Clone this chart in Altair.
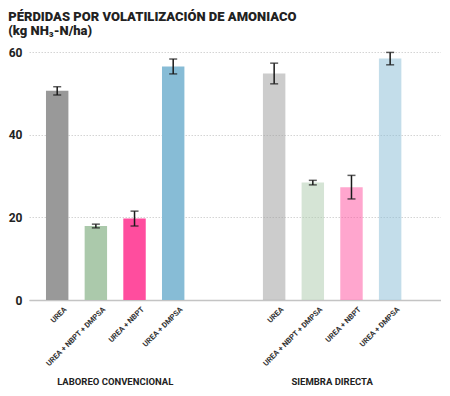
import altair as alt
import pandas as pd

group_order = ["LABOREO CONVENCIONAL", "SIEMBRA DIRECTA"]
treatment_order = ["UREA", "UREA + NBPT + DMPSA", "UREA + NBPT", "UREA + DMPSA"]

groups = ["LABOREO CONVENCIONAL"] * 4 + ["SIEMBRA DIRECTA"] * 4
treatments = treatment_order * 2
values = [50.6, 17.9, 19.7, 56.5, 54.8, 28.4, 27.3, 58.4]
errors = [1.0, 0.45, 1.8, 1.8, 2.5, 0.55, 2.85, 1.5]

colors = ["#999999", "#abc9ab", "#ff4d9e", "#87bcd6"]
group_opacity = [1.0, 0.5]
y_ticks = [0, 20, 40, 60]

df = pd.DataFrame({"group": groups, "treatment": treatments, "value": values, "err": errors})
df["lo"] = df["value"] - df["err"]
df["hi"] = df["value"] + df["err"]

FONT = "Roboto"
INK = "#222222"

x_enc = alt.X(
    "group:N",
    sort=group_order,
    scale=alt.Scale(domain=group_order, paddingInner=0.362, paddingOuter=0.1305, align=0.3),
    axis=alt.Axis(
        title=None, labelAngle=0, ticks=False, labelPadding=76,
        labelFont=FONT, labelFontWeight="bold", labelFontSize=9.5, labelColor=INK,
        domainColor="#c4c4c4", domainWidth=1.5,
    ),
)
xoff_enc = alt.XOffset(
    "treatment:N", sort=treatment_order,
    scale=alt.Scale(domain=treatment_order, paddingInner=0.42, paddingOuter=0),
)
y_scale = alt.Scale(domain=[0, 60], nice=False)
y_axis = alt.Axis(
    values=y_ticks, title=None, ticks=False, domain=False, labelPadding=7,
    labelFont=FONT, labelFontWeight="bold", labelFontSize=12, labelColor=INK,
    gridColor="#d4d4d4", gridDash=[1.5, 1.5], gridWidth=1,
)

base = alt.Chart(df)

bars = base.mark_bar().encode(
    x=x_enc,
    xOffset=xoff_enc,
    y=alt.Y("value:Q", scale=y_scale, axis=y_axis),
    color=alt.Color("treatment:N", scale=alt.Scale(domain=treatment_order, range=colors), legend=None),
    opacity=alt.Opacity("group:N", scale=alt.Scale(domain=group_order, range=group_opacity), legend=None),
)

rules = base.mark_rule(color="#1a1a1a", strokeWidth=1.5).encode(
    x=x_enc, xOffset=xoff_enc, y=alt.Y("lo:Q"), y2="hi:Q"
)
cap_lo = base.mark_tick(color="#1a1a1a", thickness=1.5, size=8, orient="horizontal").encode(
    x=x_enc, xOffset=xoff_enc, y=alt.Y("lo:Q")
)
cap_hi = base.mark_tick(color="#1a1a1a", thickness=1.5, size=8, orient="horizontal").encode(
    x=x_enc, xOffset=xoff_enc, y=alt.Y("hi:Q")
)

labels = base.mark_text(
    angle=315, align="right", baseline="middle", dy=12,
    font=FONT, fontWeight="bold", fontSize=7.5, color="#333333",
).encode(x=x_enc, xOffset=xoff_enc, y=alt.datum(0), text="treatment:N")

chart = (
    alt.layer(bars, rules, cap_lo, cap_hi, labels)
    .properties(
        width=412,
        height=248,
        padding={"left": 0, "top": 3, "right": 0, "bottom": 0},
        title=alt.TitleParams(
            ["PÉRDIDAS POR VOLATILIZACIÓN DE AMONIACO", "(kg NH₃-N/ha)"],
            anchor="start", frame="bounds", font=FONT, fontSize=13, fontWeight=900,
            color=INK, lineHeight=14, offset=8,
        ),
    )
    .configure_view(stroke=None)
)

chart.save("out.html", embed_options={"renderer": "svg", "actions": False})
